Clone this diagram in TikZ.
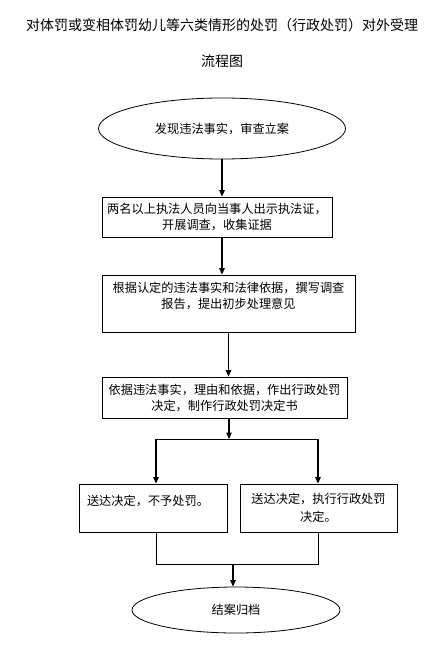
\documentclass[tikz,border=0pt]{standalone}
\usepackage{fontspec}
\setmainfont{Noto Sans CJK SC}
\usetikzlibrary{positioning,calc}
\usetikzlibrary{arrows.meta,shapes.geometric}
\tikzset{
  proc/.style={draw=black,line width=0.8pt,fill=white,inner sep=0pt,align=center,
    font=\fontsize{12.2}{16}\selectfont},
  term/.style={ellipse,draw=black,line width=0.8pt,fill=white,inner sep=0pt,
    font=\fontsize{12.2}{16}\selectfont},
  ttl/.style={font=\fontsize{14}{18}\selectfont,inner sep=0pt},
}
\tikzset{link/.style={draw=black,line width=0.8pt}, arr/.style={draw=black,line width=1.1pt,-{Triangle[length=6.5pt,width=5.5pt]}}}

\begin{document}
\begin{tikzpicture}[x=1pt,y=-1pt]
\useasboundingbox (0,0) rectangle (444,653);
\node[ttl](title) at (222,25){对体罚或变相体罚幼儿等六类情形的处罚（行政处罚）对外受理};
\node[ttl](title2) at (222,61){流程图};
\node[term,minimum width=247pt,minimum height=61pt](e1) at (222,128.5){发现违法事实，审查立案};
\node[proc,minimum width=230pt,minimum height=40pt](b2) at (217,217){两名以上执法人员向当事人出示执法证，\\开展调查，收集证据};
\node[proc,minimum width=253pt,minimum height=57pt](b3) at (228.5,303.5){根据认定的违法事实和法律依据，撰写调查\\报告，提出初步处理意见\\\mbox{}};
\node[proc,minimum width=245pt,minimum height=41pt](b4) at (224.5,397.5){依据违法事实，理由和依据，作出行政处罚\\决定，制作行政处罚决定书};
\node[proc,minimum height=48pt,text width=132pt,inner xsep=8pt,align=left](b5) at (153,508){送达决定，不予处罚。\\\mbox{}};
\node[proc,minimum width=157pt,minimum height=48pt](b6) at (318.5,508){送达决定，执行行政处罚\\[2pt]决定。};
\node[term,minimum width=208pt,minimum height=46pt](e2) at (236,610){结案归档};
\coordinate (sp) at (229,439);\coordinate (spl) at (156,439);\coordinate (spr) at (318,439);
\coordinate (jl) at (156,564);\coordinate (jr) at (318,564);\coordinate (jn) at (233,564);
% main line
\draw[arr] (e1.south) -- (e1.south |- b2.north);
\draw[arr] (e1.south |- b2.south) -- (e1.south |- b3.north);
\draw[arr] (b3.south) -- (b3.south |- b4.north);
\draw[arr] (sp |- b4.south) -- (sp);
% split and join
\draw[link] (spl) -- (spr);
\draw[arr] (spl) -- (spl |- b5.north);\draw[arr] (spr) -- (spr |- b6.north);
\draw[link] (jl |- b5.south) -- (jl) -- (jr) -- (jr |- b6.south);
\draw[arr] (jn) -- (jn |- e2.north);
\end{tikzpicture}
\end{document}
